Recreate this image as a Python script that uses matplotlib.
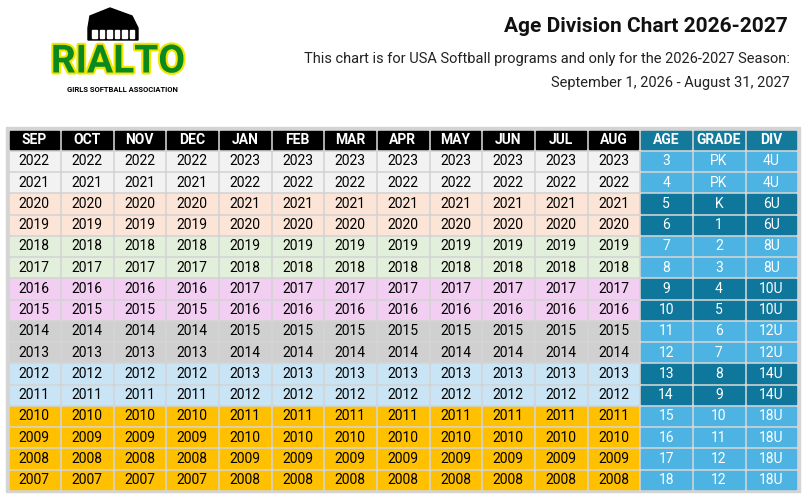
import matplotlib
matplotlib.use("Agg")
import matplotlib.pyplot as plt
from matplotlib.patches import Rectangle, Polygon
import matplotlib.patheffects as pe

months = ["SEP", "OCT", "NOV", "DEC", "JAN", "FEB", "MAR", "APR", "MAY", "JUN", "JUL", "AUG"]
fall_years = [2022, 2021, 2020, 2019, 2018, 2017, 2016, 2015, 2014, 2013, 2012, 2011, 2010, 2009, 2008, 2007]
spring_years = [2023, 2022, 2021, 2020, 2019, 2018, 2017, 2016, 2015, 2014, 2013, 2012, 2011, 2010, 2009, 2008]
ages = [3, 4, 5, 6, 7, 8, 9, 10, 11, 12, 13, 14, 15, 16, 17, 18]
grades = ["PK", "PK", "K", "1", "2", "3", "4", "5", "6", "7", "8", "9", "10", "11", "12", "12"]
divisions = ["4U", "4U", "6U", "6U", "8U", "8U", "10U", "10U", "12U", "12U", "14U", "14U", "18U", "18U", "18U", "18U"]

div_order = ["4U", "6U", "8U", "10U", "12U", "14U", "18U"]
band_colors = ["#f2f2f2", "#fce4d6", "#e2efda", "#f2cef2", "#d0d0d0", "#c9e4f5", "#ffc000"]
side_colors = ["#4db3e2", "#0f779c", "#4db3e2", "#0f779c", "#4db3e2", "#0f779c", "#4db3e2"]
FONT = ["Roboto", "DejaVu Sans"]

fig = plt.figure(figsize=(8.05, 5.0), dpi=100)
ax = fig.add_axes([0, 0, 1, 1])
ax.set_xlim(0, 805)
ax.set_ylim(500, 0)
ax.axis("off")

# header texts
ax.text(788, 27, "Age Division Chart 2026-2027", ha="right", va="center",
        fontsize=15, fontweight="bold", family=FONT, color="#111")
ax.text(790, 59, "This chart is for USA Softball programs and only for the 2026-2027 Season:",
        ha="right", va="center", fontsize=10.5, family=FONT, color="#222")
ax.text(790, 83, "September 1, 2026 - August 31, 2027", ha="right", va="center",
        fontsize=10.5, family=FONT, color="#222")

# logo
ax.add_patch(Polygon([(88, 28), (90, 16), (110, 8), (132, 16), (138, 28), (138, 40),
                      (88, 40)], closed=True, color="black"))
for i in range(6):
    ax.add_patch(Rectangle((92 + i * 7.5, 30), 4.5, 8, color="white"))
rialto = ax.text(118, 62, "RIALTO", ha="center", va="center", fontsize=28, fontweight="bold",
                 family=FONT, color="#0a8a1e")
rialto.set_path_effects([pe.withStroke(linewidth=3, foreground="#f2e600")])
ax.text(122, 89, "GIRLS SOFTBALL ASSOCIATION", ha="center", va="center", fontsize=5.5,
        fontweight="bold", family=FONT, color="black")

# table frame
left, top = 8, 129
cw, rh = 52.65, 21.25
ncols = 15
nrows = 17
ax.add_patch(Rectangle((left - 2, top - 2), cw * ncols + 4, rh * nrows + 4, color="#d4d4d4"))
gap = 1.5

def cell(c, r, fc, txt, tc, bold=False):
    x = left + c * cw
    y = top + r * rh
    ax.add_patch(Rectangle((x + gap, y + gap), cw - 2 * gap, rh - 2 * gap, color=fc))
    ax.text(x + cw / 2, y + rh / 2 + 0.5, txt, ha="center", va="center", fontsize=10,
            family=FONT, color=tc, fontweight="bold" if bold else "normal")

headers = months + ["AGE", "GRADE", "DIV"]
for c, h in enumerate(headers):
    cell(c, 0, "black" if c < 12 else "#137a9c", h, "white", bold=True)

for r in range(len(ages)):
    k = div_order.index(divisions[r])
    for c in range(12):
        yr = fall_years[r] if c < 4 else spring_years[r]
        cell(c, r + 1, band_colors[k], str(yr), "black")
    for c, v in enumerate([ages[r], grades[r], divisions[r]]):
        cell(12 + c, r + 1, side_colors[k], str(v), "white")

fig.savefig("out.png", dpi=100)
